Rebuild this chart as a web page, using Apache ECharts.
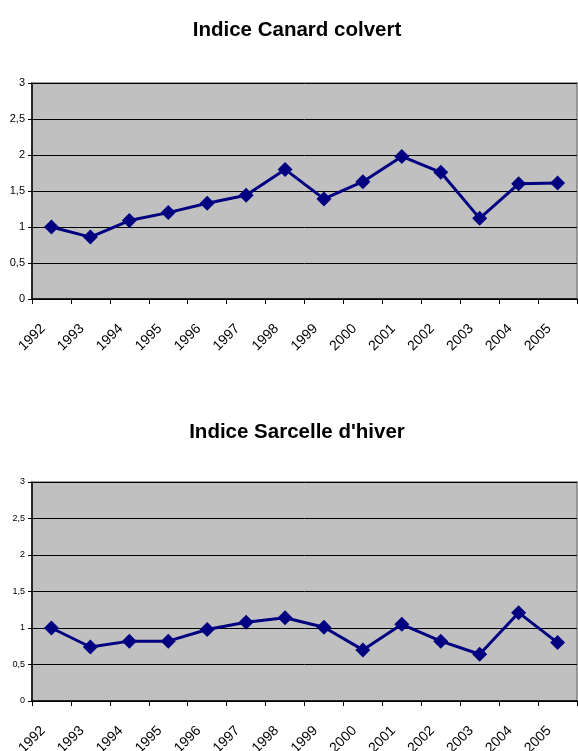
<!DOCTYPE html>
<html>
<head>
<meta charset="utf-8">
<script src="https://cdn.jsdelivr.net/npm/echarts@6/dist/echarts.min.js"></script>
<style>
html,body{margin:0;padding:0;background:#fff;}
#c{width:578px;height:751px;}
</style>
</head>
<body>
<div id="c"></div>
<script>
const years = ['1992','1993','1994','1995','1996','1997','1998','1999','2000','2001','2002','2003','2004','2005'];
const canardColvert = [1.00,0.86,1.09,1.20,1.33,1.44,1.80,1.39,1.63,1.98,1.76,1.12,1.60,1.61];
const sarcelleHiver = [1.00,0.74,0.82,0.82,0.98,1.08,1.14,1.01,0.70,1.05,0.82,0.64,1.21,0.80];
const titleTop = 'Indice Canard colvert';
const titleBottom = "Indice Sarcelle d'hiver";

const FONT = '"Liberation Sans", Arial, sans-serif';
const chart = echarts.init(document.getElementById('c'), null, {renderer:'canvas'});

function xAxisCfg(gi){
  return {
    type:'category', gridIndex:gi, data:years, boundaryGap:true,
    axisLine:{show:true, lineStyle:{color:'#000', width:1.5}},
    axisTick:{show:true, length:5, inside:false, alignWithLabel:false, interval:0, lineStyle:{color:'#000', width:1}},
    axisLabel:{interval:0, rotate:45, margin:19, color:'#000', fontFamily:FONT, fontSize:14, padding:[0,12,0,0]},
    splitLine:{show:false}
  };
}
function yAxisCfg(gi, fs){
  return {
    type:'value', gridIndex:gi, min:0, max:3, interval:0.5,
    axisLine:{show:true, lineStyle:{color:'#000', width:1.5}},
    axisTick:{show:true, length:4, lineStyle:{color:'#000'}},
    axisLabel:{margin:7, color:'#000', fontFamily:FONT, fontSize:fs,
      formatter:v=>String(v).replace('.',',')},
    splitLine:{show:true, lineStyle:{color:'#000', width:1}}
  };
}
function seriesCfg(i, data){
  return {
    type:'line', xAxisIndex:i, yAxisIndex:i, data:data,
    symbol:'diamond', symbolSize:15, showSymbol:true,
    lineStyle:{color:'#000080', width:3},
    itemStyle:{color:'#000080'},
    animation:false
  };
}

chart.setOption({
  animation:false,
  title:[
    {text:titleTop, left:292, top:15, textAlign:'center',
      textStyle:{fontFamily:FONT, fontSize:20.5, fontWeight:'bold', color:'#000'}},
    {text:titleBottom, left:292, top:417, textAlign:'center',
      textStyle:{fontFamily:FONT, fontSize:20.5, fontWeight:'bold', color:'#000'}}
  ],
  grid:[
    {left:32, right:1, top:83, height:216, show:true, backgroundColor:'#C0C0C0', borderColor:'#808080', borderWidth:1.5, containLabel:false, outerBoundsMode:'none'},
    {left:32, right:1, top:482, height:219, show:true, backgroundColor:'#C0C0C0', borderColor:'#808080', borderWidth:1.5, containLabel:false, outerBoundsMode:'none'}
  ],
  xAxis:[xAxisCfg(0), xAxisCfg(1)],
  yAxis:[yAxisCfg(0, 11), yAxisCfg(1, 9)],
  series:[seriesCfg(0, canardColvert), seriesCfg(1, sarcelleHiver)]
});
</script>
</body>
</html>
